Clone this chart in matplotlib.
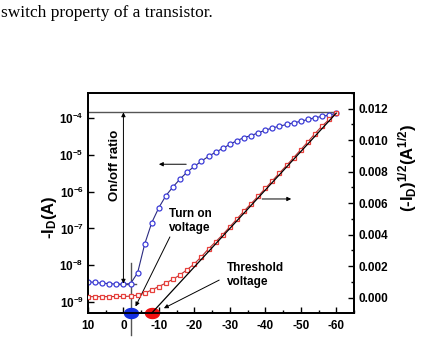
import numpy as np
import matplotlib
matplotlib.use('Agg')
import matplotlib.pyplot as plt
from matplotlib.path import Path
from matplotlib.ticker import FixedLocator, MultipleLocator, NullLocator

plt.rcParams['font.family'] = 'Liberation Sans'
plt.rcParams['font.weight'] = 'bold'
plt.rcParams['mathtext.fontset'] = 'custom'
plt.rcParams['mathtext.rm'] = 'Liberation Sans:bold'
plt.rcParams['mathtext.it'] = 'Liberation Sans:bold'
plt.rcParams['mathtext.bf'] = 'Liberation Sans:bold'

# gate voltage sweep (V)
vg = [10, 8, 6, 4, 2, 0, -2, -4, -6, -8, -10, -12, -14, -16, -18, -20, -22, -24,
      -26, -28, -30, -32, -34, -36, -38, -40, -42, -44, -46, -48, -50, -52, -54,
      -56, -58, -60]

# -Id (A), log axis
id_log = [3.6e-9, 3.45e-9, 3.3e-9, 3.2e-9, 3.1e-9, 3.1e-9, 3.2e-9, 6.3e-9, 3.8e-8,
          1.45e-7, 3.7e-7, 7.8e-7, 1.35e-6, 2.2e-6, 3.4e-6, 4.8e-6, 6.7e-6, 9.0e-6,
          1.17e-5, 1.48e-5, 1.9e-5, 2.4e-5, 2.9e-5, 3.3e-5, 3.9e-5, 4.6e-5, 5.3e-5,
          5.9e-5, 6.6e-5, 7.3e-5, 8.0e-5, 9.0e-5, 1.0e-4, 1.09e-4, 1.18e-4, 1.32e-4]

# (-Id)^1/2 (A^1/2), linear axis
id_sqrt = [0.00006, 0.00006, 0.00006, 0.00006, 0.00007, 0.00007, 0.00009, 0.00016,
           0.00028, 0.00049, 0.0007, 0.00093, 0.00117, 0.00145, 0.00178, 0.00215,
           0.0026, 0.0031, 0.00355, 0.004, 0.0045, 0.005, 0.0055, 0.00597, 0.00645,
           0.00694, 0.00743, 0.00792, 0.0084, 0.0089, 0.0094, 0.0099, 0.01042,
           0.0109, 0.01132, 0.01172]

xticks = [10, 0, -10, -20, -30, -40, -50, -60]
log_ticks = [1e-9, 1e-8, 1e-7, 1e-6, 1e-5, 1e-4]
log_labels = [r'$10^{-9}$', r'$10^{-8}$', r'$10^{-7}$', r'$10^{-6}$', r'$10^{-5}$', r'$10^{-4}$']
lin_ticks = [0.0, 0.002, 0.004, 0.006, 0.008, 0.010, 0.012]

v_on = -2
v_th = -8
i_on = 1.4e-4
i_off = 3.2e-9

blue = '#3c3cd8'
red = '#e8403c'
gray = '#555555'

fig = plt.figure(figsize=(4.27, 3.53), dpi=100)
ax = fig.add_axes([0.206, 0.1133, 0.623, 0.6232])
ax2 = ax.twinx()

ax.set_yscale('log')
ax.set_xlim(10, -65)
ax.set_ylim(10 ** -9.29, 10 ** -3.33)
ax2.set_ylim(-0.00098, 0.0130)

ax.plot(vg, id_log, color='#2a2a80', lw=0.8, marker='o', ms=3.6, mfc='white',
        mec=blue, mew=0.9, zorder=3)
ax2.plot(vg, id_sqrt, color='#b83030', lw=0.8, marker='s', ms=3.4, mfc='white',
         mec=red, mew=0.9, zorder=3)

# threshold fit line
ax2.plot([v_th, vg[-1]], [-0.00098, id_sqrt[-1]], color='black', lw=0.9, zorder=4,
         clip_on=False)

# on/off ratio guides
ax.plot([10, vg[-1]], [i_on, i_on], color=gray, lw=1.0, zorder=2)
ax.plot([1.2, -3.6], [i_off, i_off], color=gray, lw=1.0, zorder=2)
ax.annotate('', xy=(0, i_off), xytext=(0, i_on),
            arrowprops=dict(arrowstyle='<|-|>', color='black', lw=0.7,
                            mutation_scale=6, shrinkA=0, shrinkB=0))
ax.text(2.3, 5.2e-6, 'On/off ratio', rotation=90, ha='center', va='center', fontsize=9.5)

# turn-on voltage vertical guide
ax.plot([v_on, v_on], [-0.1, 0.227], color=gray, lw=1.0, clip_on=False,
        transform=ax.get_xaxis_transform(), zorder=2)

# ellipse markers on the x axis
t = np.linspace(0, 2 * np.pi, 40)
ell = Path(np.column_stack([np.cos(t), 0.72 * np.sin(t)]), closed=True)
ax.plot([v_on], [0], marker=ell, ms=10, color='#1530e0', clip_on=False,
        transform=ax.get_xaxis_transform(), zorder=6)
ax.plot([v_th], [0], marker=ell, ms=10, color='#f01010', clip_on=False,
        transform=ax.get_xaxis_transform(), zorder=6)

# annotations
ax.text(-12.9, 1.6e-7, 'Turn on\nvoltage', ha='left', va='center', fontsize=8.5,
        linespacing=1.25)
ax.annotate('', xy=(-3.4, 7.7e-10), xytext=(-13.1, 5.9e-8),
            arrowprops=dict(arrowstyle='-|>', color='black', lw=0.7, mutation_scale=6,
                            shrinkA=0, shrinkB=0), annotation_clip=False)
ax.text(-29.2, 5.5e-9, 'Threshold\nvoltage', ha='left', va='center', fontsize=8.5,
        linespacing=1.25)
ax.annotate('', xy=(-11.4, 6.9e-10), xytext=(-27.0, 4.0e-9),
            arrowprops=dict(arrowstyle='-|>', color='black', lw=0.7, mutation_scale=6,
                            shrinkA=0, shrinkB=0), annotation_clip=False)

# axis arrows
ax.annotate('', xy=(-10, 5.5e-6), xytext=(-17.7, 5.5e-6),
            arrowprops=dict(arrowstyle='-|>', color='black', lw=0.7, mutation_scale=6,
                            shrinkA=0, shrinkB=0))
ax.annotate('', xy=(-47.3, 6.3e-7), xytext=(-39.1, 6.3e-7),
            arrowprops=dict(arrowstyle='-|>', color='black', lw=0.7, mutation_scale=6,
                            shrinkA=0, shrinkB=0))

# ticks
ax.xaxis.set_major_locator(FixedLocator(xticks))
ax.xaxis.set_minor_locator(MultipleLocator(5))
ax.set_xticklabels([str(v) for v in xticks])
ax.yaxis.set_major_locator(FixedLocator(log_ticks))
ax.yaxis.set_minor_locator(NullLocator())
ax.set_yticklabels(log_labels)
ax2.yaxis.set_major_locator(FixedLocator(lin_ticks))
ax2.yaxis.set_minor_locator(MultipleLocator(0.001))
ax2.set_yticklabels(['%.3f' % v for v in lin_ticks])

for a in (ax, ax2):
    a.tick_params(which='major', direction='in', length=4, width=1.0, labelsize=8.5, pad=3)
    a.tick_params(which='minor', direction='in', length=2.5, width=1.0)
    for s in a.spines.values():
        s.set_linewidth(1.3)
ax.tick_params(axis='y', which='both', right=False)
ax.tick_params(axis='x', which='both', top=False, pad=5)
ax2.tick_params(axis='y', which='both', left=False)
for lab in ax.get_xticklabels() + ax.get_yticklabels() + ax2.get_yticklabels():
    lab.set_fontweight('bold')

fig.text(0.117, 0.385, r'-I$_\mathrm{D}$(A)', rotation=90, ha='center', va='center',
         fontsize=12, fontweight='bold')
fig.text(0.955, 0.525, r'(-I$_\mathrm{D}$)$^{1/2}$(A$^{1/2}$)', rotation=90,
         ha='center', va='center', fontsize=12, fontweight='bold')

fig.text(0.003, 0.952, 'switch property of a transistor.', ha='left', va='baseline',
         fontsize=12.5, family='Liberation Serif', fontweight='normal')

fig.savefig('out.png', dpi=100)
